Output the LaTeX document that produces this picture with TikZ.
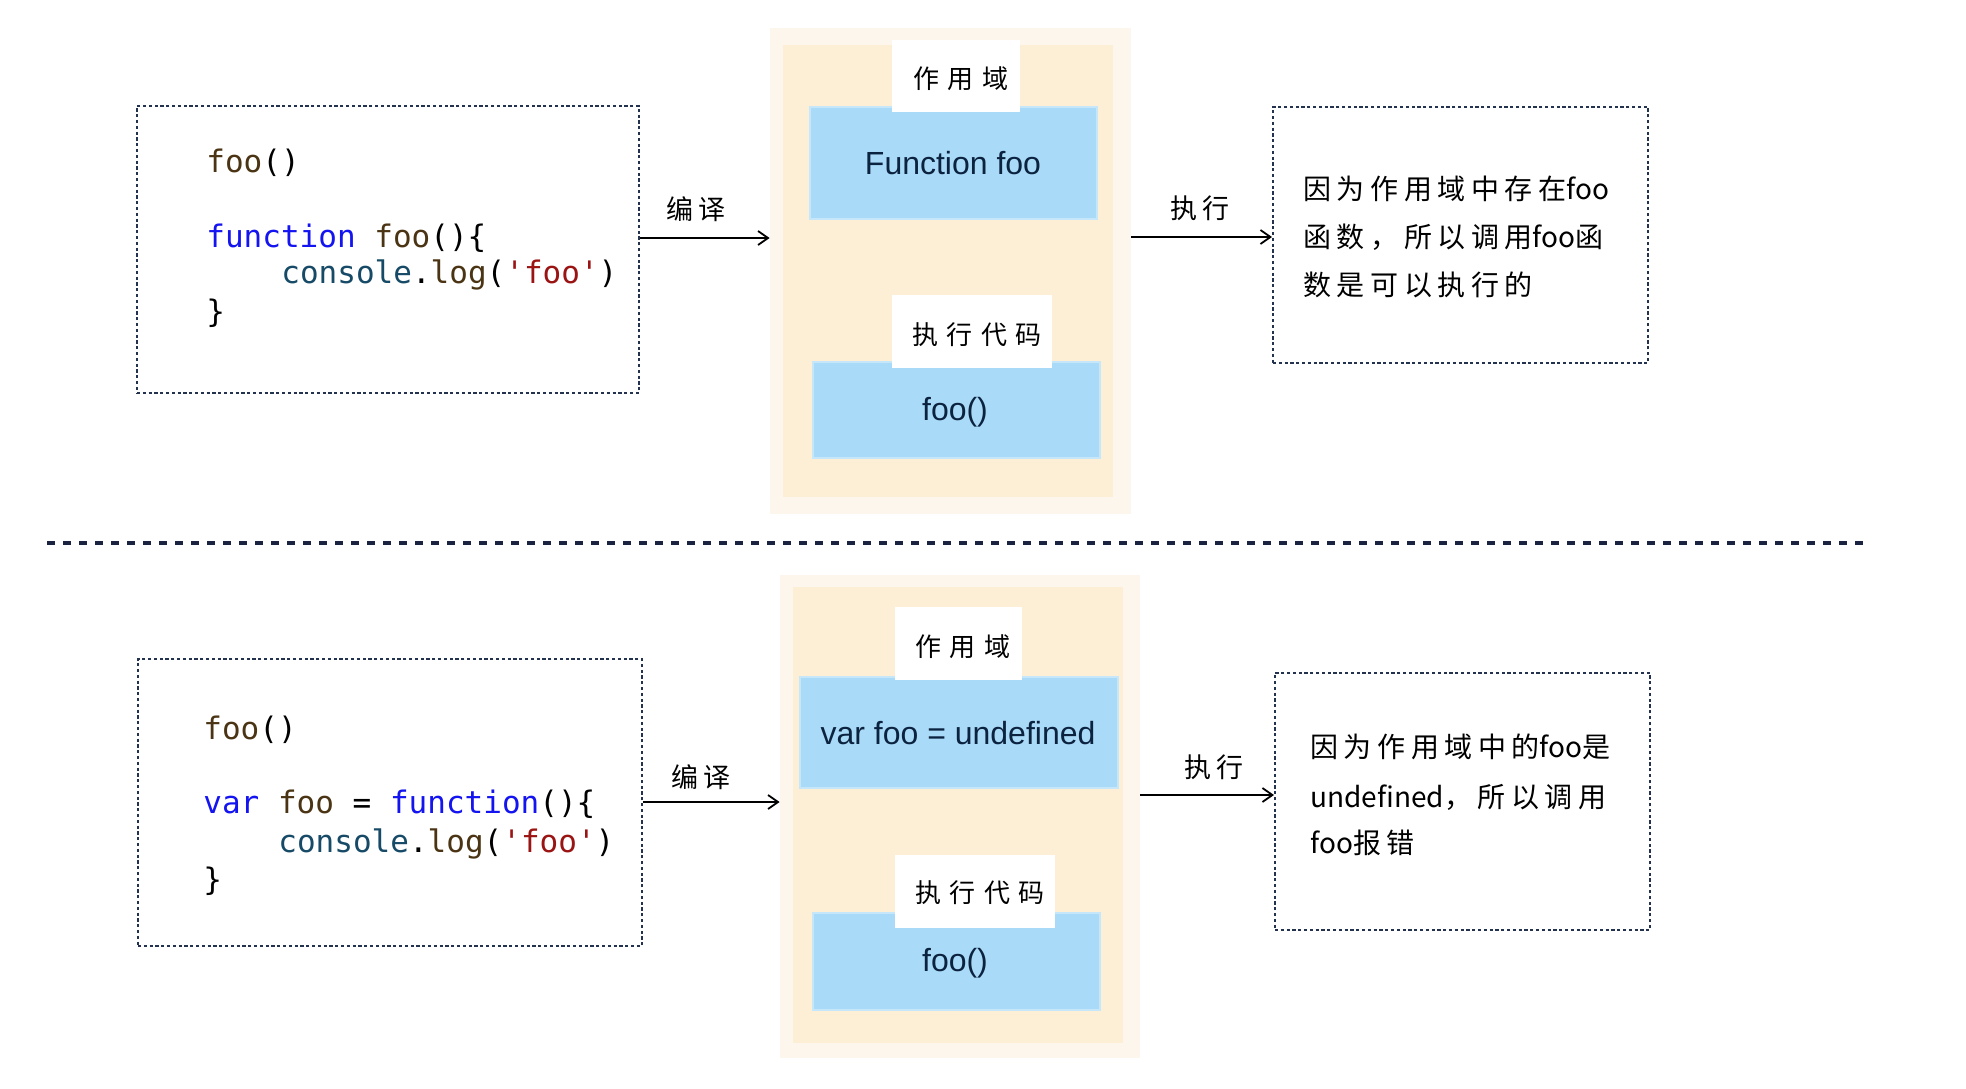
\documentclass[tikz,border=0pt]{standalone}
\usepackage{fontspec}
\setmonofont{DejaVu Sans Mono}
\newfontfamily\blueface{Liberation Sans}
\newfontfamily\hand[LetterSpace=20]{Noto Sans CJK SC}
\newfontfamily\handl{Noto Sans CJK SC}
\newfontfamily\lbl[LetterSpace=33]{Noto Sans CJK SC}
\newfontfamily\arlblf[LetterSpace=18]{Noto Sans CJK SC}
\usetikzlibrary{arrows.meta}
\definecolor{navy}{HTML}{22324F}
\definecolor{sep}{HTML}{1A2340}
\definecolor{panelout}{HTML}{FDF6EC}
\definecolor{panelin}{HTML}{FDEFD6}
\definecolor{bluebox}{HTML}{A9DAF8}
\definecolor{blueedge}{HTML}{C6E7FA}
\definecolor{bluetext}{HTML}{0C2340}
\definecolor{cfoo}{HTML}{4A3414}
\definecolor{ckw}{HTML}{1414F0}
\definecolor{ccon}{HTML}{164A66}
\definecolor{cstr}{HTML}{9A1414}
\begin{document}
\begin{tikzpicture}[x=0.5pt,y=-0.5pt,
  dotbox/.style={draw=navy,line width=1pt,dash pattern=on 1.6pt off 1.3pt,inner sep=0pt},
  panelo/.style={fill=panelout,inner sep=0pt},
  paneli/.style={fill=panelin,inner sep=0pt},
  bbox/.style={fill=bluebox,draw=blueedge,line width=1.2pt,inner sep=0pt},
  wlabel/.style={fill=white,inner sep=0pt},
  lbltxt/.style={inner sep=0pt,font=\lbl\fontsize{13}{15}\selectfont},
  bluetxt/.style={inner sep=0pt,font=\blueface\fontsize{16}{19}\selectfont,text=bluetext},
  code/.style={anchor=base west,inner sep=0pt,font=\ttfamily\fontsize{15.5}{18}\selectfont},
  res/.style={anchor=west,inner sep=0pt,font=\hand\fontsize{14}{16}\selectfont},
  arlbl/.style={inner sep=0pt,font=\arlblf\fontsize{13.5}{15}\selectfont},
  arr/.style={line width=1pt,-{Straight Barb[length=5pt,width=7pt,line width=0.9pt]}}
]
\useasboundingbox (0,0) rectangle (1966,1088);
\fill[white] (0,0) rectangle (1966,1088);

% ---------- top row ----------
\node[dotbox,minimum width=251pt,minimum height=143.5pt] (code1) at (388,249.5) {};
\node[code] (c1a) at (206,172) {\textcolor{cfoo}{foo}()};
\node[code] (c1b) at (206,247) {\textcolor{ckw}{function} \textcolor{cfoo}{foo}()\{};
\node[code] (c1c) at (281,283) {\textcolor{ccon}{console}.\textcolor{cfoo}{log}(\textcolor{cstr}{'foo'})};
\node[code] (c1d) at (206,322) {\}};

\node[panelo,minimum width=180.5pt,minimum height=243pt] (panel1) at (950.5,271) {};
\node[paneli,minimum width=165pt,minimum height=226pt] (panel1i) at (948,271) {};
\node[bbox,minimum width=143.5pt,minimum height=56pt] (scope1) at (953.5,163) {};
\node[wlabel,minimum width=64pt,minimum height=36pt] (sl1) at (956,76) {};
\node[lbltxt] (slt1) at (961,79) {作用域};
\node[bluetxt] (st1) at (953,163) {Function foo};
\node[bbox,minimum width=143.5pt,minimum height=48pt] (run1) at (956.5,410) {};
\node[wlabel,minimum width=80pt,minimum height=36.5pt] (el1) at (972,331.5) {};
\node[lbltxt] (elt1) at (977,335) {执行代码};
\node[bluetxt] (rt1) at (955,412) {foo()};

\node[dotbox,minimum width=187.5pt,minimum height=128pt] (res1) at (1460.5,235) {};
\node[res] (r1a) at (1303,189) {因为作用域中存在{\handl foo}};
\node[res] (r1b) at (1303,237) {函数，所以调用{\handl foo}函};
\node[res] (r1c) at (1303,285) {数是可以执行的};

\draw[arr] (code1.east |- 0,238) -- (panel1.west |- 0,238);
\node[arlbl] (cmp1) at (696,209) {编译};
\draw[arr] (panel1.east |- 0,237) -- (res1.west |- 0,237);
\node[arlbl] (exe1) at (1200,208) {执行};

% ---------- separator ----------
\coordinate (sepL) at (47,543);
\coordinate (sepR) at (1866,543);
\draw[sep,line width=1.8pt,dash pattern=on 4pt off 4pt] (sepL) -- (sepR);

% ---------- bottom row ----------
\node[dotbox,minimum width=252pt,minimum height=143.5pt] (code2) at (390,802.5) {};
\node[code] (c2a) at (203,739) {\textcolor{cfoo}{foo}()};
\node[code] (c2b) at (203,813) {\textcolor{ckw}{var} \textcolor{cfoo}{foo} = \textcolor{ckw}{function}()\{};
\node[code] (c2c) at (278,852) {\textcolor{ccon}{console}.\textcolor{cfoo}{log}(\textcolor{cstr}{'foo'})};
\node[code] (c2d) at (203,890) {\}};

\node[panelo,minimum width=180pt,minimum height=241.5pt] (panel2) at (960,816.5) {};
\node[paneli,minimum width=165pt,minimum height=228pt] (panel2i) at (958,815) {};
\node[bbox,minimum width=159pt,minimum height=55.5pt] (scope2) at (959,732.5) {};
\node[wlabel,minimum width=63.5pt,minimum height=36.5pt] (sl2) at (958.5,643.5) {};
\node[lbltxt] (slt2) at (963,647) {作用域};
\node[bluetxt] (st2) at (958,733) {var foo = undefined};
\node[bbox,minimum width=143.5pt,minimum height=48.5pt] (run2) at (956.5,961.5) {};
\node[wlabel,minimum width=80pt,minimum height=36.5pt] (el2) at (975,891.5) {};
\node[lbltxt] (elt2) at (980,893) {执行代码};
\node[bluetxt] (rt2) at (955,963) {foo()};

\node[dotbox,minimum width=187.5pt,minimum height=128.5pt] (res2) at (1462.5,801.5) {};
\node[res] (r2a) at (1310,747) {因为作用域中的{\handl foo}是};
\node[res] (r2b) at (1310,797) {{\handl undefined}，所以调用};
\node[res] (r2c) at (1310,843) {{\handl foo}报错};

\draw[arr] (code2.east |- 0,802) -- (panel2.west |- 0,802);
\node[arlbl] (cmp2) at (701,777) {编译};
\draw[arr] (panel2.east |- 0,795) -- (res2.west |- 0,795);
\node[arlbl] (exe2) at (1214,767) {执行};
\end{tikzpicture}
\end{document}
